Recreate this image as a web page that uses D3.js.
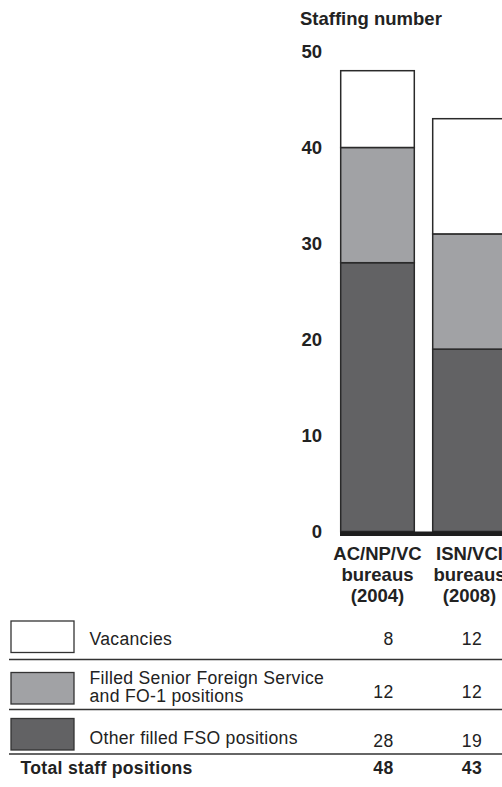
<!DOCTYPE html>
<html><head><meta charset="utf-8">
<script src="https://cdn.jsdelivr.net/npm/d3@7"></script>
<style>
body{margin:0;background:#fff;}
svg{display:block;font-family:"Liberation Sans",Arial,Helvetica,sans-serif;}
</style></head>
<body><svg id="c" width="502" height="787"></svg>
<script>
const categories = ["AC/NP/VC bureaus (2004)", "ISN/VCI bureaus (2008)"];
const categoryLines = [["AC/NP/VC","bureaus","(2004)"],["ISN/VCI","bureaus","(2008)"]];
const otherFilled = [28, 19];
const seniorFilled = [12, 12];
const vacancies = [8, 12];
const totals = [48, 43];
const yTicks = [0, 10, 20, 30, 40, 50];
const seriesNames = ["Vacancies", "Filled Senior Foreign Service\nand FO-1 positions", "Other filled FSO positions"];

const colors = {other:"#626264", senior:"#a1a2a5", vac:"#ffffff", stroke:"#2a2a2a"};

const svg = d3.select("#c");
const y = d3.scaleLinear().domain([0, 50]).range([531.5, 51.5]);
const x = d3.scaleBand().domain(categories).range([340.7, 506.3]).paddingInner(0.2).paddingOuter(0);
const bfs = 18.5;

// title
svg.append("text").attr("x", 300).attr("y", 25).attr("font-size", bfs).attr("font-weight", "bold")
  .attr("fill", "#222").text("Staffing number");

// y axis labels
const yAxis = d3.axisLeft(y).tickValues(yTicks).tickSize(0).tickPadding(0);
const ag = svg.append("g").attr("transform", "translate(322,0)").call(yAxis);
ag.select(".domain").remove();
ag.selectAll("text").attr("font-size", bfs).attr("font-weight", "bold").attr("fill", "#222")
  .attr("font-family", "Liberation Sans, Arial, sans-serif");

// stacked data
const rows = categories.map((c, i) => ({cat: c, other: otherFilled[i], senior: seniorFilled[i], vac: vacancies[i]}));
const stack = d3.stack().keys(["other", "senior", "vac"])(rows);
stack.forEach(layer => {
  svg.append("g").selectAll("rect").data(layer).join("rect")
    .attr("x", d => x(d.data.cat))
    .attr("width", x.bandwidth())
    .attr("y", d => y(d[1]))
    .attr("height", d => y(d[0]) - y(d[1]))
    .attr("fill", colors[layer.key])
    .attr("stroke", colors.stroke)
    .attr("stroke-width", 1.5);
});

// baseline
svg.append("rect").attr("x", 340).attr("y", y(0)).attr("width", 170).attr("height", 4.5).attr("fill", "#1e1e1e");

// category labels
categories.forEach((c, i) => {
  const t = svg.append("text").attr("text-anchor", "middle").attr("font-size", bfs)
    .attr("font-weight", "bold").attr("fill", "#222");
  categoryLines[i].forEach((ln, j) => {
    t.append("tspan").attr("x", x(c) + x.bandwidth() / 2).attr("y", 559.5 + j * 21).text(ln);
  });
});

// legend table
const boxFills = [colors.vac, colors.senior, colors.other];
const boxTops = [621, 672.5, 718.5];
const lineYs = [659.5, 709.5, 754];
const valueArrays = [vacancies, seniorFilled, otherFilled];
const valBase = [644.5, 698, 747];
const colRight = [393.5, 482];
const fs = 17.6;

boxFills.forEach((f, i) => {
  svg.append("rect").attr("x", 11).attr("y", boxTops[i]).attr("width", 63).attr("height", 31.5)
    .attr("fill", f).attr("stroke", "#333").attr("stroke-width", 1.3);
});
lineYs.forEach(ly => {
  svg.append("line").attr("x1", 9).attr("x2", 502).attr("y1", ly).attr("y2", ly)
    .attr("stroke", "#333").attr("stroke-width", 1.6);
});
// labels
const labelBase = [[644.5], [684, 702], [743.5]];
seriesNames.forEach((n, i) => {
  const t = svg.append("text").attr("font-size", fs).attr("letter-spacing", 0.3).attr("fill", "#222");
  n.split("\n").forEach((ln, j) => {
    t.append("tspan").attr("x", 89.5).attr("y", labelBase[i][j]).text(ln);
  });
});
valueArrays.forEach((arr, i) => {
  arr.forEach((v, k) => {
    svg.append("text").attr("x", colRight[k]).attr("y", valBase[i]).attr("text-anchor", "end")
      .attr("font-size", fs).attr("letter-spacing", 0.3).attr("fill", "#222").text(v);
  });
});
svg.append("text").attr("x", 20.5).attr("y", 773.5).attr("font-size", fs).attr("letter-spacing", 0.3)
  .attr("font-weight", "bold").attr("fill", "#222").text("Total staff positions");
totals.forEach((v, k) => {
  svg.append("text").attr("x", colRight[k]).attr("y", 773.5).attr("text-anchor", "end")
    .attr("font-size", fs).attr("letter-spacing", 0.3).attr("font-weight", "bold").attr("fill", "#222").text(v);
});
</script></body></html>
